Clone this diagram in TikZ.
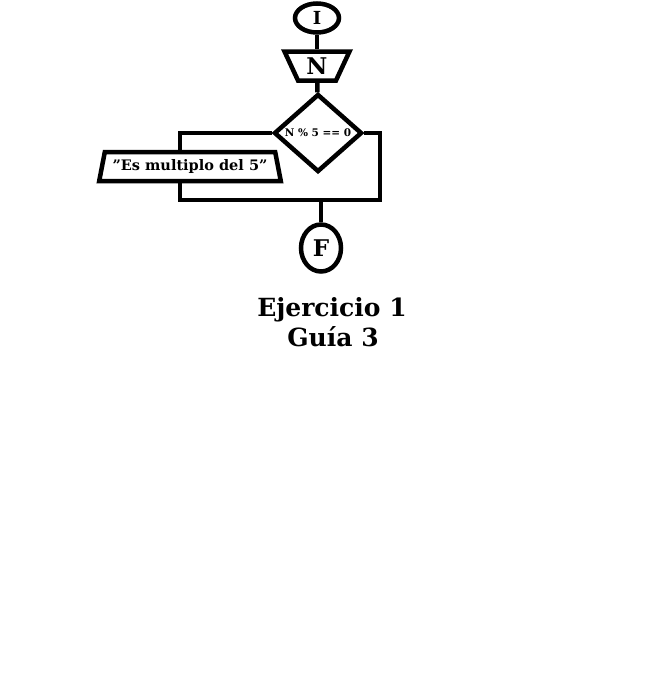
\documentclass[tikz,border=0pt]{standalone}
\usepackage{fontspec}
\setmainfont{DejaVu Serif}
\usetikzlibrary{shapes.geometric}
\begin{document}
\begin{tikzpicture}[x=1pt,y=-1pt,line width=4.5pt,
  term/.style={ellipse,draw,inner sep=0pt},
  io/.style={trapezium,draw,inner sep=0pt,trapezium stretches=true},
  cond/.style={diamond,draw,inner sep=0pt}]
\useasboundingbox (0,0) rectangle (650,686);
\node[term,minimum width=44pt,minimum height=29pt] (ini) at (317,18) {\fontsize{18}{18}\selectfont\bfseries I};
\node[io,trapezium left angle=114,trapezium right angle=114,minimum width=65pt,minimum height=29pt] (leer) at (317,66) {\fontsize{23}{23}\selectfont\bfseries N};
\node[cond,minimum width=88pt,minimum height=78pt] (dec) at (318,133) {\fontsize{10.5}{10.5}\selectfont\bfseries N \% 5 == 0};
\node[io,trapezium left angle=70,trapezium right angle=70,minimum width=182pt,minimum height=29pt] (msj) at (190,166.5) {\fontsize{14.5}{14.5}\selectfont\bfseries \symbol{34}Es multiplo del 5\symbol{34}};
\node[term,minimum width=40pt,minimum height=47pt] (fin) at (321,248) {\fontsize{23}{23}\selectfont\bfseries F};
\coordinate (izq) at (180,200);
\coordinate (der) at (380,200);
\draw (ini) -- (leer);
\draw (leer) -- (dec);
\draw (dec.west) -- (dec.west -| izq) -- (izq |- msj.north);
\draw (izq |- msj.south) -- (izq) -- (der) -- (der |- dec.east) -- (dec.east);
\draw (fin) -- (fin |- izq);
\node[anchor=base] (tit1) at (332,316) {\fontsize{25}{25}\selectfont\bfseries Ejercicio 1};
\node[anchor=base] (tit2) at (333,346) {\fontsize{25}{25}\selectfont\bfseries Guía 3};
\end{tikzpicture}
\end{document}
